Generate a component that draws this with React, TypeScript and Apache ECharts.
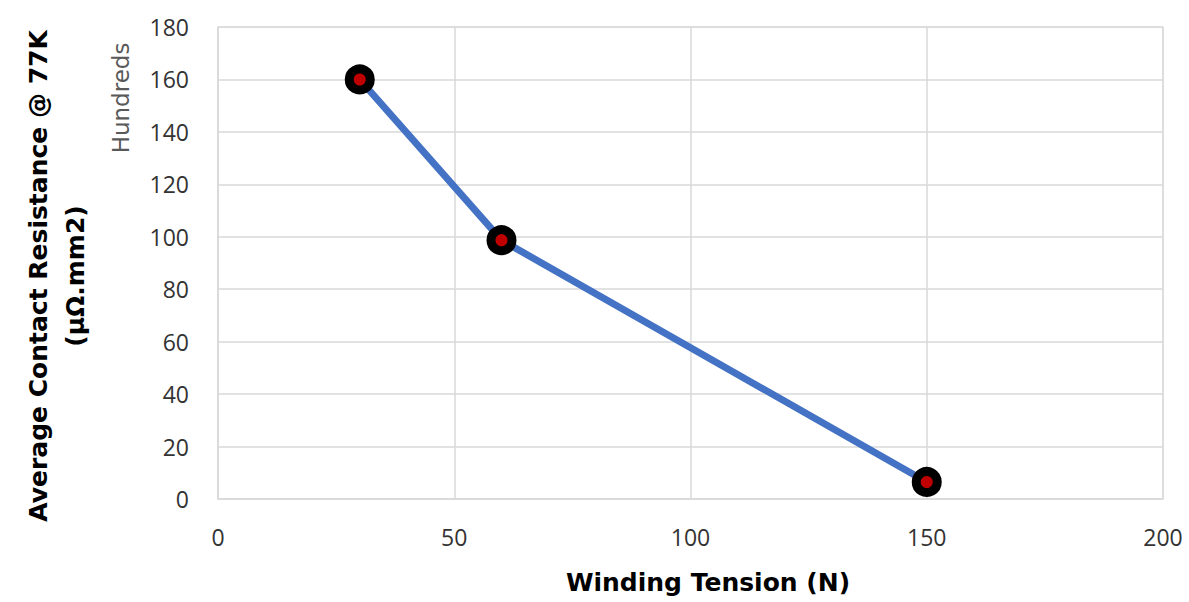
import React, { useEffect, useRef } from "react";
import * as echarts from "echarts";

const tensions = [30, 60, 150];
const resistance = [160, 98.7, 6.5];
const xTicks = { min: 0, max: 200, interval: 50 };
const yTicks = { min: 0, max: 180, interval: 20 };
const yTitle = ["Average Contact Resistance @ 77K", "(µΩ.mm2)"];
const xTitle = "Winding Tension (N)";
const unitLabel = "Hundreds";

const FONT = "'Open Sans', 'Noto Sans', sans-serif";
const TFONT = "'DejaVu Sans', sans-serif";

export default function App() {
  const ref = useRef<HTMLDivElement>(null);
  useEffect(() => {
    if (!ref.current) return;
    const chart = echarts.init(ref.current, undefined, { renderer: "svg" });
    chart.setOption({
      animation: false,
      backgroundColor: "#ffffff",
      grid: { left: 218, right: 26, top: 27, bottom: 103, show: true, borderColor: "#d9d9d9", borderWidth: 1 },
      xAxis: {
        type: "value",
        min: xTicks.min,
        max: xTicks.max,
        interval: xTicks.interval,
        axisLine: { show: true, lineStyle: { color: "#d9d9d9", width: 1.5 } },
        axisTick: { show: false },
        axisLabel: { fontFamily: FONT, fontSize: 23, color: "#333333", margin: 26 },
        splitLine: { show: true, lineStyle: { color: "#d9d9d9", width: 1.5 } },
      },
      yAxis: {
        type: "value",
        min: yTicks.min,
        max: yTicks.max,
        interval: yTicks.interval,
        axisLine: { show: true, lineStyle: { color: "#d9d9d9", width: 1.5 } },
        axisTick: { show: false },
        axisLabel: { fontFamily: FONT, fontSize: 23, color: "#333333", margin: 29 },
        splitLine: { show: true, lineStyle: { color: "#d9d9d9", width: 1.5 } },
      },
      series: [
        {
          type: "line",
          data: tensions.map((t, i) => [t, resistance[i]]),
          lineStyle: { color: "#4472C4", width: 7 },
          symbol: "circle",
          symbolSize: 21,
          itemStyle: { color: "#C00000", borderColor: "#000000", borderWidth: 9 },
        },
      ],
      graphic: [
        {
          type: "text",
          x: 38,
          y: 276,
          rotation: Math.PI / 2,
          style: {
            text: yTitle[0],
            font: `bold 25px ${TFONT}`,
            fill: "#000000",
            align: "center",
            verticalAlign: "middle",
          },
        },
        {
          type: "text",
          x: 75,
          y: 276,
          rotation: Math.PI / 2,
          style: {
            text: yTitle[1],
            font: `bold 25px ${TFONT}`,
            fill: "#000000",
            align: "center",
            verticalAlign: "middle",
          },
        },
        {
          type: "text",
          x: 121,
          y: 98,
          rotation: Math.PI / 2,
          style: {
            text: unitLabel,
            font: `23px ${TFONT}`,
            fill: "#595959",
            align: "center",
            verticalAlign: "middle",
          },
        },
        {
          type: "text",
          x: 708,
          y: 582,
          style: {
            text: xTitle,
            font: `bold 25px ${TFONT}`,
            fill: "#000000",
            align: "center",
            verticalAlign: "middle",
          },
        },
      ],
    });
    return () => chart.dispose();
  }, []);
  return <div ref={ref} style={{ width: 1189, height: 602, position: "absolute", left: 0, top: 0 }} />;
}
